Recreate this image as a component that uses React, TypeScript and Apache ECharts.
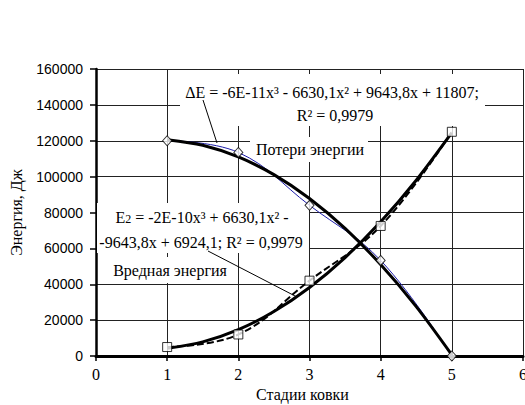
import React, { useEffect, useRef } from 'react';
import * as echarts from 'echarts';

const stages = [1, 2, 3, 4, 5];
const lossValues = [120000, 113500, 84000, 53300, 0];
const harmValues = [5000, 12000, 42000, 72500, 125000];
const trendX = [1, 1.5, 2, 2.5, 3, 3.5, 4, 4.5, 5];
const lossTrend = [120600, 117500, 111000, 101100, 87800, 71100, 51000, 27500, 600];
const harmTrend = [4300, 7900, 14700, 24800, 38200, 54900, 74800, 98000, 124500];

const xAxisName = 'Стадии ковки';
const yAxisName = 'Энергия, Дж';
const lossEq1 = 'ΔE = -6E-11x³ - 6630,1x² + 9643,8x + 11807;';
const lossEq2 = 'R² = 0,9979';
const lossLabel = 'Потери энергии';
const harmEq1 = '{b|E}{s|2}{b| = -2E-10x³ + 6630,1x² -}';
const harmEq2 = '-9643,8x + 6924,1; R² = 0,9979';
const harmLabel = 'Вредная энергия';

const pair = (xs: number[], ys: number[]) => xs.map((x, i) => [x, ys[i]]);

const SERIF = 'Times New Roman';
const SANS = 'Arial';
const FS = 16;

export default function App() {
  const ref = useRef<HTMLDivElement>(null);
  useEffect(() => {
    if (!ref.current) return;
    const chart = echarts.init(ref.current, undefined, { renderer: 'svg' });
    const txt = (x: number, y: number, text: string, extra: any = {}) => ({
      type: 'text',
      x,
      y,
      z: 2,
      style: {
        text,
        fill: '#000',
        fontFamily: SERIF,
        fontSize: FS,
        textAlign: 'center',
        textVerticalAlign: 'middle',
        ...extra,
      },
    });
    const box = (x: number, y: number, w: number, h: number) => ({
      type: 'rect',
      z: 1,
      shape: { x, y, width: w, height: h },
      style: { fill: '#fff' },
    });
    chart.setOption({
      animation: false,
      backgroundColor: '#fff',
      grid: { left: 96, right: 2, top: 69, bottom: 49, containLabel: false, outerBoundsMode: 'none' },
      xAxis: {
        type: 'value',
        min: 0,
        max: 6,
        interval: 1,
        name: xAxisName,
        nameLocation: 'middle',
        nameGap: 30,
        nameTextStyle: { fontFamily: SERIF, fontSize: FS, color: '#000', padding: [0, 14, 0, 0] },
        axisLine: { show: true, onZero: false, lineStyle: { color: '#000', width: 3 } },
        axisTick: { show: true, length: 5, lineStyle: { color: '#000', width: 1.5 } },
        axisLabel: { fontFamily: SERIF, fontSize: FS, color: '#000', margin: 10 },
        splitLine: { show: true, lineStyle: { color: '#222', width: 1 } },
      },
      yAxis: {
        type: 'value',
        min: 0,
        max: 160000,
        interval: 20000,
        name: yAxisName,
        nameLocation: 'middle',
        nameGap: 72,
        nameTextStyle: { fontFamily: SERIF, fontSize: FS, color: '#000' },
        axisLine: { show: true, lineStyle: { color: '#000', width: 2.5 } },
        axisTick: { show: true, length: 6, lineStyle: { color: '#000', width: 1.5 } },
        axisLabel: {
          fontFamily: SANS,
          fontSize: 14,
          color: '#000',
          margin: 13,
          formatter: (v: number) => String(v),
        },
        splitLine: { show: true, lineStyle: { color: '#222', width: 1 } },
      },
      graphic: [
        box(180, 74, 305, 52),
        box(250, 137, 118, 25),
        box(97, 203, 212, 50),
        box(108, 257, 124, 26),
        txt(332, 92, lossEq1),
        txt(335, 115, lossEq2),
        txt(310, 149, lossLabel),
        txt(202, 217, harmEq1, {
          rich: {
            b: { fontFamily: SERIF, fontSize: FS, fill: '#000', verticalAlign: 'bottom' },
            s: { fontFamily: SERIF, fontSize: 12, fill: '#000', verticalAlign: 'bottom' },
          },
        }),
        txt(201, 242, harmEq2),
        txt(170, 270, harmLabel),
        {
          type: 'line',
          z: 4,
          shape: { x1: 203, y1: 100, x2: 217, y2: 143 },
          style: { stroke: '#000', lineWidth: 1 },
        },
        {
          type: 'line',
          z: 4,
          shape: { x1: 208, y1: 251, x2: 297, y2: 297 },
          style: { stroke: '#000', lineWidth: 1 },
        },
      ],
      series: [
        {
          type: 'line',
          data: pair(stages, lossValues),
          smooth: 0.4,
          showSymbol: false,
          symbol: 'none',
          z: 3,
          lineStyle: { color: '#1c1caa', width: 1 },
        },
        {
          type: 'line',
          data: pair(stages, harmValues),
          smooth: 0.4,
          showSymbol: false,
          symbol: 'none',
          z: 3,
          lineStyle: { color: '#000', width: 2, type: [7, 3] },
        },
        {
          type: 'line',
          data: pair(trendX, lossTrend),
          smooth: 0.3,
          symbol: 'none',
          z: 4,
          lineStyle: { color: '#000', width: 3 },
        },
        {
          type: 'line',
          data: pair(trendX, harmTrend),
          smooth: 0.3,
          symbol: 'none',
          z: 4,
          lineStyle: { color: '#000', width: 3 },
        },
        {
          type: 'scatter',
          data: pair(stages, lossValues),
          symbol: 'diamond',
          symbolSize: [9, 10],
          z: 6,
          itemStyle: { color: '#fff', borderColor: '#000', borderWidth: 1 },
        },
        {
          type: 'scatter',
          data: pair(stages, harmValues),
          symbol: 'rect',
          symbolSize: 9,
          z: 6,
          itemStyle: { color: '#fff', borderColor: '#000', borderWidth: 1 },
        },
      ],
    });
    return () => chart.dispose();
  }, []);
  return (
    <div
      ref={ref}
      style={{ position: 'fixed', left: 0, top: 0, width: 525, height: 405, background: '#fff' }}
    />
  );
}
